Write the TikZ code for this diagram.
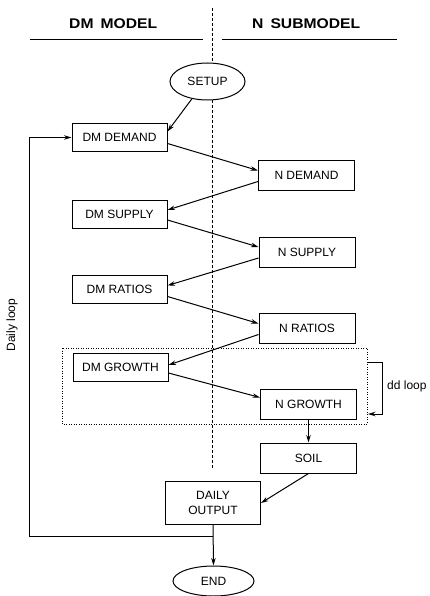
\documentclass[tikz,border=0pt]{standalone}
\usepackage{fontspec}
\setmainfont{Liberation Sans}
\newfontfamily\hdrfont{Liberation Sans}[FakeStretch=1.12]
\usetikzlibrary{shapes.geometric, arrows.meta}
\begin{document}
\begin{tikzpicture}[x=1pt,y=-1pt,
  lbox/.style={draw, line width=1pt, minimum width=95pt, minimum height=28pt, inner sep=0pt, font=\fontsize{12}{15}\selectfont, align=center},
  rbox/.style={lbox, minimum width=96pt, minimum height=30pt},
  oval/.style={draw, ellipse, line width=1pt, inner sep=0pt, font=\fontsize{12}{14}\selectfont},
  flow/.style={line width=1pt, -{Stealth[length=7.5pt,width=4.5pt]}},
  divider/.style={line width=0.6pt, dash pattern=on 3pt off 2pt},
  dotbox/.style={line width=0.9pt, dash pattern=on 0.9pt off 1.6pt},
  hdr/.style={font=\hdrfont\bfseries\fontsize{14}{16}\selectfont, anchor=base west, inner sep=0pt},
  lbl/.style={font=\fontsize{12}{14}\selectfont, inner sep=0pt}]
\useasboundingbox (0,0) rectangle (429,596);
% headers
\node[hdr] (hdm) at (69,28.3) {DM\hspace{7pt}MODEL};
\node[hdr] (hn) at (252,28.3) {N\hspace{7pt}SUBMODEL};
\draw[line width=0.8pt] (30,39.5) -- (203,39.5);
\draw[line width=0.8pt] (222,39.5) -- (397,39.5);
% divider
\draw[divider] (212,8) -- (212,63);
\draw[divider] (212,100) -- (212,469);
% nodes
\node[oval, minimum width=75pt, minimum height=37pt] (setup) at (207.5,81.5) {SETUP};
\node[lbox] (dmd) at (119.5,137.5) {DM DEMAND};
\node[rbox] (nd) at (306.5,175.5) {N DEMAND};
\node[lbox] (dms) at (119.5,214) {DM SUPPLY};
\node[rbox] (ns) at (307,252) {N SUPPLY};
\node[lbox] (dmr) at (119.5,289.5) {DM RATIOS};
\node[rbox] (nr) at (307,328.5) {N RATIOS};
\node[lbox] (dmg) at (120.5,367) {DM GROWTH};
\node[rbox] (ng) at (308.5,404.5) {N GROWTH};
\node[rbox] (soil) at (308.5,458) {SOIL};
\node[lbox, minimum height=43pt] (dout) at (213,503) {DAILY\\OUTPUT};
\node[oval, minimum width=81pt, minimum height=30pt] (end) at (213.5,581) {END};
% dotted inner loop box
\draw[dotbox] (62,348) rectangle (367,424);
\coordinate (dd1) at (367,362);
\coordinate (dd2) at (382,362);
\coordinate (dd3) at (382,414);
\coordinate (dd4) at (368,414);
\draw[flow] (dd1) -- (dd2) -- (dd3) -- (dd4);
\node[lbl, anchor=west] (ddl) at (387,386) {dd loop};
% flow arrows
\draw[flow] (setup.228) -- ([yshift=6pt]dmd.east);
\draw[flow] ([yshift=-6pt]dmd.east) -- ([yshift=5pt]nd.west);
\draw[flow] ([yshift=-6pt]nd.west) -- ([yshift=4pt]dms.east);
\draw[flow] ([yshift=-6pt]dms.east) -- ([yshift=5pt]ns.west);
\draw[flow] ([yshift=-6pt]ns.west) -- ([yshift=4pt]dmr.east);
\draw[flow] ([yshift=-7pt]dmr.east) -- ([yshift=5pt]nr.west);
\draw[flow] ([yshift=-6pt]nr.west) -- ([yshift=2pt]dmg.east);
\draw[flow] ([yshift=-6pt]dmg.east) -- ([yshift=7pt]ng.west);
\draw[flow] (ng.south) -- (soil.north);
\draw[flow] (soil.south) -- (dout.east);
\draw[flow] (dout.south) -- (end.north);
% daily loop
\coordinate (lj) at (213,536);
\coordinate (lc) at (29,536);
\draw[flow] (lj) -- (lc) |- (dmd.west);
\node[lbl, rotate=90] (dll) at (12,325) {Daily loop};
\end{tikzpicture}
\end{document}
